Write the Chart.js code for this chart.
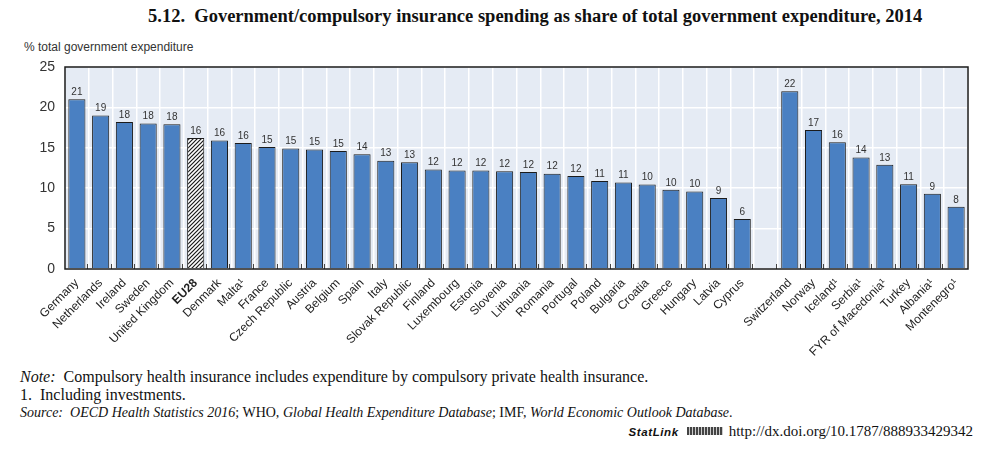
<!DOCTYPE html>
<html>
<head>
<meta charset="utf-8">
<script src="https://cdn.jsdelivr.net/npm/chart.js@4.4.1/dist/chart.umd.min.js"></script>
<style>
  body { margin: 0; background: #fff; width: 991px; height: 450px; position: relative; overflow: hidden; }
  #title { position: absolute; top: 6px; left: 148px; white-space: nowrap; font: bold 18.5px 'Liberation Serif', serif; color: #111; }
  #ytitle { position: absolute; left: 24px; top: 40px; font: 12px 'Liberation Sans', Arial, sans-serif; color: #333; }
  #wrap { position: absolute; left: 0; top: 0; width: 991px; height: 360px; }
  .note { position: absolute; left: 20px; font: 16px 'Liberation Serif', serif; color: #111; white-space: nowrap; }
  .src { font-size: 14px; }
  .stat { position: absolute; right: 18px; top: 423px; font: 15px 'Liberation Serif', serif; color: #111; white-space: nowrap; }
  .stat b { font: italic bold 11.5px 'Liberation Sans', Arial, sans-serif; letter-spacing: 0.6px; margin-right: 8px; }
  .icon { display: inline-block; width: 36px; height: 8px; background: repeating-linear-gradient(90deg, #444 0 2px, #ccc 2px 3px); margin-right: 6px; vertical-align: 1px; }
</style>
</head>
<body>
<div id="title">5.12.&nbsp; Government/compulsory insurance spending as share of total government expenditure, 2014</div>
<div id="ytitle">% total government expenditure</div>
<div id="wrap"><canvas id="chart" width="991" height="360"></canvas></div>
<div class="note" style="top:368px"><i>Note:</i>&nbsp; Compulsory health insurance includes expenditure by compulsory private health insurance.</div>
<div class="note" style="top:386px">1.&nbsp; Including investments.</div>
<div class="note src" style="top:405px"><i>Source:&nbsp; OECD Health Statistics 2016</i>; WHO, <i>Global Health Expenditure Database</i>; IMF, <i>World Economic Outlook Database</i>.</div>
<div class="stat"><b>StatLink</b><span class="icon"></span>http://dx.doi.org/10.1787/888933429342</div>

<script>
// Data
const categories = ['Germany', 'Netherlands', 'Ireland', 'Sweden', 'United Kingdom', 'EU28', 'Denmark', 'Malta¹',
  'France', 'Czech Republic', 'Austria', 'Belgium', 'Spain', 'Italy', 'Slovak Republic', 'Finland', 'Luxembourg',
  'Estonia', 'Slovenia', 'Lithuania', 'Romania', 'Portugal', 'Poland', 'Bulgaria', 'Croatia', 'Greece', 'Hungary',
  'Latvia', 'Cyprus', '', 'Switzerland', 'Norway', 'Iceland¹', 'Serbia¹', 'FYR of Macedonia¹', 'Turkey', 'Albania¹',
  'Montenegro¹'];
const values = [21.0, 19.0, 18.2, 18.0, 17.9, 16.2, 15.9, 15.6,
  15.1, 14.9, 14.8, 14.6, 14.2, 13.4, 13.2, 12.3, 12.2,
  12.2, 12.1, 12.0, 11.8, 11.5, 10.9, 10.7, 10.45, 9.8, 9.6,
  8.8, 6.2, null, 22.0, 17.2, 15.7, 13.8, 12.9, 10.5, 9.3,
  7.7];
const yTicks = [0, 5, 10, 15, 20, 25];
const highlight = 'EU28';

const FONT = "'Liberation Sans Narrow', 'Arial Narrow', 'Liberation Sans', Arial, sans-serif";

// hatch pattern for EU28
function hatch() {
  const c = document.createElement('canvas');
  c.width = 4; c.height = 4;
  const g = c.getContext('2d');
  g.fillStyle = '#fff';
  g.fillRect(0, 0, 4, 4);
  g.strokeStyle = '#1a1a1a';
  g.lineWidth = 1.2;
  g.beginPath();
  g.moveTo(0, 4); g.lineTo(4, 0);
  g.moveTo(-1, 1); g.lineTo(1, -1);
  g.moveTo(3, 5); g.lineTo(5, 3);
  g.stroke();
  return g.createPattern(c, 'repeat');
}
const pattern = hatch();

const plotDeco = {
  id: 'plotDeco',
  beforeDraw(chart) {
    const a = chart.chartArea, ctx = chart.ctx;
    ctx.save();
    ctx.fillStyle = '#e5ebf4';
    ctx.fillRect(a.left, a.top, a.right - a.left, a.bottom - a.top);
    ctx.restore();
  },
  afterDatasetsDraw(chart) {
    const a = chart.chartArea, ctx = chart.ctx;
    const meta = chart.getDatasetMeta(0);
    const xs = chart.scales.x;
    ctx.save();
    // value labels
    ctx.font = '10px ' + FONT;
    ctx.fillStyle = '#333';
    ctx.textAlign = 'center';
    ctx.textBaseline = 'bottom';
    meta.data.forEach((bar, i) => {
      if (values[i] == null) return;
      ctx.fillText(Math.round(values[i]), bar.x, bar.y - 2);
    });
    // small inner ticks at category boundaries
    const half = (xs.getPixelForValue(1) - xs.getPixelForValue(0)) / 2;
    ctx.strokeStyle = '#444';
    ctx.lineWidth = 1;
    ctx.beginPath();
    for (let i = 1; i < categories.length; i++) {
      const x = Math.round(xs.getPixelForValue(i) - half) - 1.5;
      ctx.moveTo(x, a.bottom);
      ctx.lineTo(x, a.bottom - 5);
    }
    ctx.stroke();
    // frame
    ctx.strokeStyle = '#1a1a1a';
    ctx.lineWidth = 1.5;
    ctx.strokeRect(a.left, a.top, a.right - a.left, a.bottom - a.top);
    ctx.restore();
  }
};

const config = {
  type: 'bar',
  data: {
    labels: categories,
    datasets: [{
      data: values,
      backgroundColor: categories.map(c => c === highlight ? pattern : '#4a80c2'),
      borderColor: '#1b1b1b',
      borderWidth: 1,
      barPercentage: 0.72,
      categoryPercentage: 1
    }]
  },
  options: {
    responsive: false,
    animation: false,
    layout: { padding: { left: 20, top: 67, right: 23, bottom: 0 } },
    plugins: { legend: { display: false }, tooltip: { enabled: false }, title: { display: false } },
    scales: {
      x: {
        afterFit(scale) { scale.height = 91; },
        grid: { color: '#ffffff', lineWidth: 1.5, offset: true, drawTicks: false },
        border: { display: false },
        ticks: {
          autoSkip: false,
          maxRotation: 45,
          minRotation: 45,
          padding: 7,
          color: '#222',
          font: (ctx) => ({ family: FONT, size: 12, weight: categories[ctx.index] === highlight ? 'bold' : 'normal' })
        }
      },
      y: {
        min: 0,
        max: 25,
        afterFit(scale) { scale.width = 45; },
        afterBuildTicks(scale) { scale.ticks = yTicks.map(v => ({ value: v })); },
        grid: { color: '#ffffff', lineWidth: 1.5, drawTicks: false },
        border: { display: false },
        ticks: { padding: 10, color: '#333', font: { family: FONT, size: 14 } }
      }
    }
  },
  plugins: [plotDeco]
};

let ctx = document.getElementById('chart').getContext('2d');
let chart = new Chart(ctx, config);
</script>
</body>
</html>
